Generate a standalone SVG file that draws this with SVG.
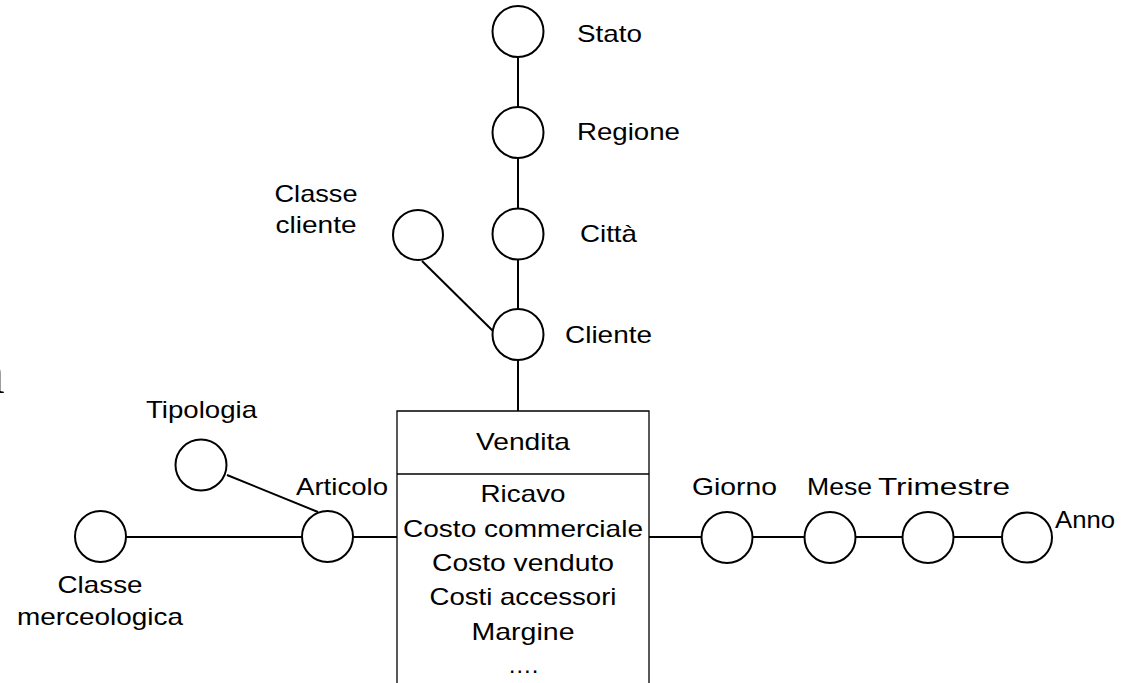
<svg xmlns="http://www.w3.org/2000/svg" width="1130" height="683" viewBox="0 0 1130 683">
<style>
  .n { fill: #ffffff; stroke: #000000; stroke-width: 2; }
  .c line, .c polyline { stroke: #000000; stroke-width: 2; fill: none; }
  text { font-family: "Liberation Sans", Arial, sans-serif; font-size: 24px; fill: #000000; text-anchor: middle; }
  .box { fill: #ffffff; stroke: #000000; stroke-width: 1.3; }
  .frag { font-family: "Liberation Serif", "Times New Roman", serif; font-size: 60px; text-anchor: start; }
</style>
<rect width="1130" height="683" fill="#ffffff"/>
<text class="frag" x="-22" y="393">a</text>
<g id="connectors" class="c">
  <line x1="518" y1="57" x2="518" y2="107"/>
  <line x1="518" y1="158" x2="518" y2="209"/>
  <line x1="518" y1="260" x2="518" y2="309"/>
  <line x1="518" y1="360" x2="518" y2="411"/>
  <line x1="422" y1="261" x2="494" y2="332"/>
  <line x1="227" y1="475" x2="318" y2="512"/>
  <line x1="126" y1="537" x2="302" y2="537"/>
  <line x1="353" y1="537" x2="397" y2="537"/>
  <line x1="649" y1="537" x2="702" y2="537"/>
  <line x1="752" y1="537" x2="805" y2="537"/>
  <line x1="855" y1="537" x2="903" y2="537"/>
  <line x1="953" y1="537" x2="1002" y2="537"/>
</g>
<g id="vendita">
  <polyline class="box" points="397,683 397,411 649,411 649,683"/>
  <line x1="397" y1="474" x2="649" y2="474" stroke="#000" stroke-width="1.3"/>
  <text x="523" y="450" textLength="94" lengthAdjust="spacingAndGlyphs">Vendita</text>
  <text x="523" y="502" textLength="85" lengthAdjust="spacingAndGlyphs">Ricavo</text>
  <text x="523" y="537" textLength="240" lengthAdjust="spacingAndGlyphs">Costo commerciale</text>
  <text x="523" y="571" textLength="182" lengthAdjust="spacingAndGlyphs">Costo venduto</text>
  <text x="523" y="605" textLength="187" lengthAdjust="spacingAndGlyphs">Costi accessori</text>
  <text x="523" y="640" textLength="103" lengthAdjust="spacingAndGlyphs">Margine</text>
  <text x="523" y="673">….</text>
</g>
<g id="stato">
  <circle class="n" cx="518" cy="31.5" r="25.5"/>
  <text x="609.5" y="42" textLength="65" lengthAdjust="spacingAndGlyphs">Stato</text>
</g>
<g id="regione">
  <circle class="n" cx="518" cy="132.5" r="25.5"/>
  <text x="628.5" y="140" textLength="103" lengthAdjust="spacingAndGlyphs">Regione</text>
</g>
<g id="citta">
  <circle class="n" cx="518" cy="234" r="25.5"/>
  <text x="608.5" y="242" textLength="57" lengthAdjust="spacingAndGlyphs">Città</text>
</g>
<g id="cliente">
  <circle class="n" cx="518" cy="334.5" r="25.5"/>
  <text x="608.5" y="343" textLength="87" lengthAdjust="spacingAndGlyphs">Cliente</text>
</g>
<g id="classe-cliente">
  <circle class="n" cx="418" cy="235" r="25"/>
  <text x="316" y="202" textLength="83" lengthAdjust="spacingAndGlyphs">Classe</text>
  <text x="316" y="233" textLength="81" lengthAdjust="spacingAndGlyphs">cliente</text>
</g>
<g id="tipologia">
  <circle class="n" cx="201" cy="465" r="25.5"/>
  <text x="201.5" y="418" textLength="111" lengthAdjust="spacingAndGlyphs">Tipologia</text>
</g>
<g id="articolo">
  <circle class="n" cx="327.5" cy="536.5" r="25.5"/>
  <text x="342" y="495" textLength="92" lengthAdjust="spacingAndGlyphs">Articolo</text>
</g>
<g id="classe-merceologica">
  <circle class="n" cx="100.5" cy="536.5" r="25.5"/>
  <text x="100" y="593" textLength="85" lengthAdjust="spacingAndGlyphs">Classe</text>
  <text x="100" y="625" textLength="166" lengthAdjust="spacingAndGlyphs">merceologica</text>
</g>
<g id="giorno">
  <circle class="n" cx="727" cy="537.5" r="25.5"/>
  <text x="734.5" y="495" textLength="85" lengthAdjust="spacingAndGlyphs">Giorno</text>
</g>
<g id="mese">
  <circle class="n" cx="830" cy="537.5" r="25.5"/>
  <text x="839.5" y="495" textLength="65" lengthAdjust="spacingAndGlyphs">Mese</text>
</g>
<g id="trimestre">
  <circle class="n" cx="928" cy="537.5" r="25.5"/>
  <text x="944" y="495" textLength="132" lengthAdjust="spacingAndGlyphs">Trimestre</text>
</g>
<g id="anno">
  <circle class="n" cx="1027" cy="537.5" r="25"/>
  <text x="1085" y="528" textLength="60" lengthAdjust="spacingAndGlyphs">Anno</text>
</g>
</svg>
